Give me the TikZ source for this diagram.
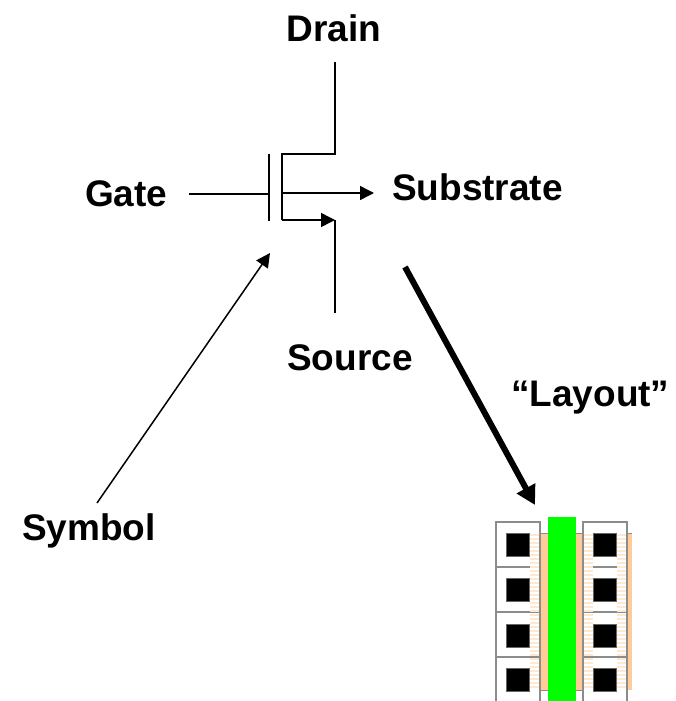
\documentclass[tikz,border=0pt]{standalone}
\usepackage{fontspec}
\setmainfont{Liberation Sans}
\usetikzlibrary{arrows.meta}
\definecolor{diffusion}{RGB}{255,204,153}
\definecolor{gatepoly}{RGB}{0,255,0}
\tikzset{
    termlabel/.style={font=\bfseries\fontsize{37}{40}\selectfont,inner sep=0pt},
    wire/.style={line width=1.5pt},
    wirearrow/.style={wire,-{Triangle[length=14pt,width=14pt]}},
    metalbox/.style={draw=black!45,line width=1.5pt,fill=white},
    contact/.style={fill=black,draw=black!60,line width=0.5pt},
    hatching/.style={draw=diffusion!45,line width=1.5pt}
}
\begin{document}
\begin{tikzpicture}[x=1pt,y=-1pt]
    \useasboundingbox (0,0) rectangle (675,701);

    % Labels
    \node[termlabel] (drain) at (334,28) {Drain};
    \node[termlabel,anchor=west] (gate) at (85,194) {Gate};
    \node[termlabel,anchor=west] (substrate) at (392,187) {Substrate};
    \node[termlabel,anchor=west] (source) at (287,358) {Source};
    \node[termlabel,anchor=west] (layout) at (511,398) {“Layout”};
    \node[termlabel,anchor=west] (symbol) at (22,531) {Symbol};

    % Transistor
    \coordinate (drainend) at (335,62);
    \coordinate (draincorner) at (335,154);
    \coordinate (chantop) at (282,154);
    \coordinate (chanmid) at (282,193);
    \coordinate (chanbot) at (282,220);
    \coordinate (sourcecorner) at (335,220);
    \coordinate (sourceend) at (335,313);
    \coordinate (platetop) at (269,154);
    \coordinate (platebot) at (269,221);
    \coordinate (platemid) at (269,194);
    \coordinate (gateend) at (189,194);
    \coordinate (subend) at (374,193);

    \draw[wire] (drainend) -- (draincorner) -- (chantop) -- (chanbot);
    \draw[wire] (platetop) -- (platebot);
    \draw[wire] (gateend) -- (platemid);
    \draw[wirearrow] (chanmid) -- (subend);
    \draw[wirearrow] (chanbot) -- (sourcecorner);
    \draw[wire] (sourcecorner) -- (sourceend);

    % Arrows
    \coordinate (symbolstart) at (97,503);
    \coordinate (symboltip) at (270,253);
    \coordinate (layoutstart) at (405,267);
    \coordinate (layouttip) at (535,505);
    \draw[wirearrow] (symbolstart) -- (symboltip);
    \draw[line width=6pt,-{Triangle[length=19pt,width=20pt]}] (layoutstart) -- (layouttip);

    % Layout cell
    \begin{scope}
        \clip (0,0) rectangle (675,701);
        \fill[diffusion] (540,533) rectangle (548,690);
        \fill[diffusion] (576,533) rectangle (583,690);
        \fill[diffusion] (627,533) rectangle (632,690);
        \draw[black!45] (529,533) -- (632,533);
        \draw[black!45] (540,690) -- (583,690);

        % Metal rows
        \foreach \rowtop/\rowbot/\cuttop in {522/567/533,567/612/578,612/657/624,657/710/668} {
            \draw[metalbox] (496,\rowtop) rectangle (540,\rowbot);
            \draw[metalbox] (583,\rowtop) rectangle (627,\rowbot);
            \draw[contact] (506,\cuttop) rectangle (529,\cuttop+23);
            \draw[contact] (593,\cuttop) rectangle (616,\cuttop+23);
        }

        % Stripes
        \foreach \y in {535,539,...,689} {
            \draw[hatching] (530,\y) -- (539,\y);
            \draw[hatching] (584,\y) -- (593,\y);
            \draw[hatching] (617,\y) -- (626,\y);
        }

        % Poly
        \fill[gatepoly] (548,517) rectangle (576,701);
    \end{scope}
\end{tikzpicture}
\end{document}
